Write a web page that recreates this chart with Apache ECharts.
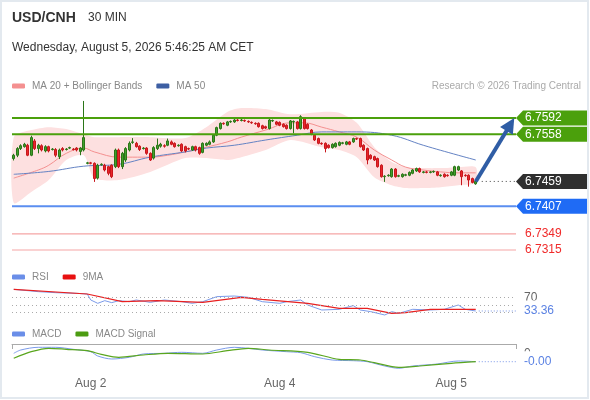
<!DOCTYPE html>
<html>
<head>
<meta charset="utf-8">
<title>USD/CNH 30 MIN</title>
<script src="https://cdn.jsdelivr.net/npm/echarts@6/dist/echarts.min.js"></script>
<style>
  html, body { margin: 0; padding: 0; background: #fff; }
  #chart { width: 590px; height: 400px; }
</style>
</head>
<body>
<div id="chart"></div>
<script>
// ---- data ----
// 30 min candles: [open, close, low, high]
var ohlc = [
  [6.7507,6.7514,6.7503,6.7517],[6.7514,6.7528,6.7510,6.7531],[6.7528,6.7534,6.7525,6.7537],[6.7532,6.7537,6.7530,6.7540],
  [6.7535,6.7514,6.7512,6.7538],[6.7514,6.7551,6.7512,6.7555],[6.7544,6.7528,6.7525,6.7548],[6.7528,6.7535,6.7518,6.7538],
  [6.7534,6.7525,6.7522,6.7537],[6.7523,6.7532,6.7520,6.7535],[6.7532,6.7523,6.7520,6.7534],[6.7526,6.7527,6.7524,6.7529],
  [6.7526,6.7514,6.7510,6.7529],[6.7511,6.7525,6.7506,6.7528],[6.7528,6.7525,6.7522,6.7531],[6.7526,6.7527,6.7524,6.7529],
  [6.7529,6.7530,6.7527,6.7532],[6.7527,6.7526,6.7524,6.7529],[6.7529,6.7525,6.7522,6.7531],[6.7522,6.7529,6.7514,6.7531],
  [6.7525,6.7551,6.7522,6.7628],[6.7497,6.7498,6.7495,6.7500],[6.7498,6.7497,6.7495,6.7500],[6.7497,6.7465,6.7458,6.7499],
  [6.7466,6.7493,6.7463,6.7496],[6.7494,6.7495,6.7492,6.7497],[6.7493,6.7483,6.7480,6.7496],[6.7490,6.7476,6.7472,6.7492],
  [6.7493,6.7469,6.7466,6.7495],[6.7490,6.7525,6.7487,6.7528],[6.7525,6.7490,6.7487,6.7528],[6.7490,6.7518,6.7485,6.7521],
  [6.7504,6.7528,6.7500,6.7531],[6.7525,6.7539,6.7522,6.7543],[6.7541,6.7542,6.7538,6.7550],[6.7539,6.7532,6.7530,6.7542],
  [6.7533,6.7526,6.7523,6.7535],[6.7528,6.7529,6.7526,6.7531],[6.7529,6.7518,6.7515,6.7531],[6.7518,6.7504,6.7502,6.7520],
  [6.7508,6.7530,6.7505,6.7533],[6.7528,6.7535,6.7525,6.7549],[6.7533,6.7537,6.7530,6.7540],[6.7534,6.7533,6.7530,6.7537],
  [6.7535,6.7544,6.7533,6.7549],[6.7542,6.7537,6.7535,6.7545],[6.7539,6.7532,6.7530,6.7541],[6.7534,6.7535,6.7532,6.7537],
  [6.7537,6.7523,6.7521,6.7539],[6.7532,6.7523,6.7520,6.7534],[6.7528,6.7527,6.7525,6.7530],[6.7525,6.7532,6.7523,6.7534],
  [6.7532,6.7525,6.7522,6.7534],[6.7530,6.7518,6.7515,6.7532],[6.7520,6.7539,6.7518,6.7541],[6.7535,6.7539,6.7533,6.7541],
  [6.7537,6.7542,6.7535,6.7545],[6.7542,6.7556,6.7540,6.7558],[6.7556,6.7572,6.7554,6.7574],[6.7570,6.7581,6.7568,6.7583],
  [6.7581,6.7580,6.7578,6.7583],[6.7577,6.7584,6.7575,6.7586],[6.7584,6.7585,6.7582,6.7587],[6.7584,6.7588,6.7582,6.7590],
  [6.7588,6.7587,6.7585,6.7590],[6.7587,6.7588,6.7585,6.7591],[6.7587,6.7586,6.7584,6.7589],[6.7585,6.7584,6.7582,6.7587],
  [6.7583,6.7582,6.7580,6.7585],[6.7581,6.7580,6.7578,6.7583],[6.7581,6.7574,6.7572,6.7583],[6.7576,6.7570,6.7568,6.7578],
  [6.7574,6.7571,6.7569,6.7576],[6.7570,6.7588,6.7568,6.7590],[6.7586,6.7587,6.7584,6.7589],[6.7584,6.7579,6.7577,6.7586],
  [6.7583,6.7577,6.7575,6.7585],[6.7579,6.7574,6.7572,6.7581],[6.7577,6.7570,6.7568,6.7579],[6.7570,6.7586,6.7568,6.7588],
  [6.7584,6.7585,6.7560,6.7587],[6.7584,6.7570,6.7568,6.7586],[6.7570,6.7595,6.7568,6.7598],[6.7591,6.7570,6.7568,6.7594],
  [6.7579,6.7570,6.7568,6.7581],[6.7567,6.7558,6.7556,6.7569],[6.7556,6.7546,6.7544,6.7558],[6.7549,6.7539,6.7537,6.7551],
  [6.7539,6.7538,6.7536,6.7541],[6.7539,6.7528,6.7520,6.7541],[6.7535,6.7530,6.7528,6.7537],[6.7530,6.7537,6.7528,6.7539],
  [6.7532,6.7539,6.7530,6.7541],[6.7535,6.7541,6.7533,6.7543],[6.7539,6.7540,6.7537,6.7542],[6.7537,6.7542,6.7535,6.7544],
  [6.7542,6.7537,6.7535,6.7544],[6.7542,6.7549,6.7540,6.7551],[6.7549,6.7548,6.7546,6.7551],[6.7549,6.7532,6.7530,6.7551],
  [6.7535,6.7525,6.7523,6.7537],[6.7528,6.7504,6.7495,6.7530],[6.7514,6.7507,6.7505,6.7516],[6.7511,6.7504,6.7502,6.7513],
  [6.7507,6.7490,6.7488,6.7509],[6.7493,6.7469,6.7467,6.7495],[6.7469,6.7470,6.7458,6.7472],[6.7471,6.7472,6.7469,6.7474],
  [6.7469,6.7485,6.7467,6.7487],[6.7485,6.7469,6.7467,6.7487],[6.7470,6.7471,6.7468,6.7473],[6.7469,6.7474,6.7467,6.7476],
  [6.7472,6.7473,6.7470,6.7475],[6.7472,6.7478,6.7470,6.7480],[6.7476,6.7483,6.7474,6.7485],[6.7481,6.7486,6.7479,6.7488],
  [6.7486,6.7479,6.7477,6.7488],[6.7478,6.7479,6.7476,6.7481],[6.7479,6.7478,6.7476,6.7481],[6.7478,6.7479,6.7476,6.7481],
  [6.7479,6.7480,6.7477,6.7482],[6.7479,6.7472,6.7470,6.7481],[6.7471,6.7472,6.7469,6.7474],[6.7474,6.7469,6.7467,6.7476],
  [6.7472,6.7471,6.7469,6.7474],[6.7472,6.7479,6.7470,6.7481],[6.7472,6.7490,6.7470,6.7492],[6.7483,6.7490,6.7481,6.7492],
  [6.7481,6.7469,6.7451,6.7483],[6.7472,6.7471,6.7469,6.7474],[6.7472,6.7462,6.7448,6.7474],[6.7465,6.7457,6.7455,6.7467],
  [6.7454,6.7459,6.7452,6.7462]
];
var slots = 144;                       // candle slots on the time axis (empty ones on the right)
var dayIdx = [22, 76, 125];
var dayText = ['Aug 2', 'Aug 4', 'Aug 5'];

// Bollinger bands (20) and moving averages, read at sparse candles
var bandIdx = [0,5,10,15,20,23,30,39,49,55,61,65,72,79,88,93,98,103,108,112,117,122,127,132];
var bandUpper = [6.7552,6.7567,6.7573,6.7569,6.7558,6.7552,6.7552,6.7552,6.7550,6.7573,6.7605,6.7613,
                 6.7611,6.7600,6.7605,6.7603,6.7582,6.7531,6.7500,6.7489,6.7487,6.7487,6.7489,6.7489];
var bandLower = [6.7414,6.7437,6.7462,6.7504,6.7514,6.7466,6.7462,6.7479,6.7508,6.7508,6.7504,6.7510,
                 6.7525,6.7546,6.7531,6.7525,6.7510,6.7468,6.7451,6.7445,6.7445,6.7447,6.7451,6.7456];
var ma20Idx = [0,7,10,15,20,23,30,34,39,44,49,55,61,65,72,79,83,88,93,98,103,108,112,117,122,127,132];
var ma20Val = [6.7466,6.7483,6.7493,6.7518,6.7529,6.7521,6.7510,6.7510,6.7510,6.7514,6.7521,6.7531,6.7542,
               6.7552,6.7567,6.7582,6.7582,6.7573,6.7563,6.7552,6.7525,6.7504,6.7489,6.7483,6.7479,6.7477,6.7477];
var ma50Idx = [0,10,20,30,39,49,55,63,72,81,88,98,108,117,127,132];
var ma50Val = [6.7474,6.7480,6.7491,6.7495,6.7510,6.7521,6.7529,6.7535,6.7546,6.7556,6.7563,6.7563,
               6.7556,6.7535,6.7514,6.7504];

// key levels on the right
var levelValues = [6.7592, 6.7558, 6.7459, 6.7407, 6.7349, 6.7315];
var levelKinds = ['resistance', 'resistance', 'last', 'support', 'minor', 'minor'];
var arrowTarget = 6.7592;

// RSI + 9MA
var rsiIdx = [0,7,12,18,21,22,24,26,28,30,33,35,39,43,48,51,54,58,63,67,71,76,78,82,84,88,93,97,99,102,
              106,108,110,114,119,123,127,129,132];
var rsiVal = [91.1,84.9,82.2,80.4,78.7,62.7,53.8,60.9,55.6,60.9,58.2,62.7,56.4,62.7,58.2,53.8,58.2,71.6,
              73.3,69.8,58.2,53.8,58.2,62.7,49.3,36.0,37.8,47.6,36.0,31.6,22.7,31.6,27.1,37.8,36.0,37.8,
              49.3,37.8,33.36];
var rsiMaIdx = [0,21,31,41,54,65,71,84,93,101,108,112,119,125,132];
var rsiMaVal = [91.1,78.7,58.2,60.9,56.4,69.8,64.4,53.8,40.4,40.4,27.1,28.9,37.8,37.8,37.8];
var rsiLevels = [70, 50, 30];

// MACD + signal
var macdIdx = [0,2,7,12,17,22,24,28,33,37,43,48,54,58,63,67,71,78,82,86,91,97,101,106,110,114,121,127,132];
var macdVal = [0.00007,0.00040,0.00067,0.00067,0.00047,0.00023,-0.00020,-0.00050,-0.00033,0.00000,
               0.00007,0.00017,0.00007,0.00040,0.00067,0.00057,0.00040,0.00023,0.00013,-0.00027,
               -0.00060,-0.00067,-0.00077,-0.00120,-0.00143,-0.00120,-0.00100,-0.00070,-0.00077];
var signalIdx = [0,5,10,15,21,25,30,37,44,54,61,67,73,84,93,99,103,110,116,125,132];
var signalVal = [-0.00043,0.00023,0.00057,0.00047,0.00033,-0.00003,-0.00033,-0.00010,0.00007,0.00000,
                 0.00033,0.00057,0.00040,0.00017,-0.00053,-0.00060,-0.00087,-0.00133,-0.00120,-0.00093,-0.00077];

// ---- chart ----
var FONT = '"Liberation Sans", Arial, sans-serif';
var categories = [];
for (var i = 0; i < slots; i++) categories.push(String(i));
var lastIdx = ohlc.length - 1;

function pairs(idx, vals) {
    return idx.map(function (x, k) { return [x, vals[k]]; });
}

var tagColors = {resistance: '#4ba00c', last: '#2f2f2f', support: '#1f6bf5'};
var lineColors = {resistance: '#4ba00c', support: '#5b8ef0', minor: '#f5a5a5'};

function textStyle(x, y, text, fill) {
    return {x: x, y: y, text: text, fill: fill, font: '12px ' + FONT,
            verticalAlign: 'middle', textVerticalAlign: 'middle'};
}

// horizontal levels + price tags on the right edge
function renderLevel(params, api) {
    var v = api.value(1);
    var kind = levelKinds[params.dataIndex];
    var cs = params.coordSys;
    var y = api.coord([0, v])[1];
    var x0 = cs.x + cs.width;
    var label = v.toFixed(4);
    var children = [];
    if (kind === 'last') {
        var xs = api.coord([lastIdx, v])[0] + 6;
        children.push({type: 'line', shape: {x1: xs, y1: y, x2: x0, y2: y},
                       style: {stroke: '#444', lineWidth: 1, lineDash: [1, 3]}});
    } else {
        children.push({type: 'line', shape: {x1: cs.x, y1: y, x2: x0, y2: y},
                       style: {stroke: lineColors[kind], lineWidth: kind === 'minor' ? 1.2 : 2}});
    }
    if (kind === 'minor') {
        children.push({type: 'text', style: textStyle(x0 + 9, y, label, '#f02a2a')});
    } else {
        children.push({type: 'polygon',
            shape: {points: [[x0, y], [x0 + 7, y - 7.5], [x0 + 71, y - 7.5], [x0 + 71, y + 7.5], [x0 + 7, y + 7.5]]},
            style: {fill: tagColors[kind]}});
        children.push({type: 'text', style: textStyle(x0 + 9, y, label, '#fff')});
    }
    return {type: 'group', children: children};
}

// forecast arrow from the last close to the target level
function renderArrow(params, api) {
    var p1 = api.coord([api.value(0), api.value(1)]);
    var p2 = api.coord([api.value(2), api.value(3)]);
    var dx = p2[0] - p1[0], dy = p2[1] - p1[1];
    var len = Math.sqrt(dx * dx + dy * dy);
    var ux = dx / len, uy = dy / len;
    var head = 15, half = 7.5;
    var bx = p2[0] - ux * head, by = p2[1] - uy * head;
    return {
        type: 'group',
        children: [
            {type: 'line', shape: {x1: p1[0], y1: p1[1], x2: bx + ux * 2, y2: by + uy * 2},
             style: {stroke: '#2f5da5', lineWidth: 4}},
            {type: 'polygon',
             shape: {points: [[p2[0], p2[1]], [bx - uy * half, by + ux * half], [bx + uy * half, by - ux * half]]},
             style: {fill: '#2f5da5'}}
        ]
    };
}

// band between upper and lower Bollinger lines
function renderBand(params, api) {
    if (params.dataIndex !== 0) return null;
    var up = bandIdx.map(function (x, k) { return api.coord([x, bandUpper[k]]); });
    var low = bandIdx.map(function (x, k) { return api.coord([x, bandLower[k]]); });
    return {
        type: 'group',
        children: [
            {type: 'polygon', shape: {points: up.concat(low.slice().reverse()), smooth: 0.25},
             style: {fill: '#fde0e0'}}
        ]
    };
}

function renderValueTag(params, api) {
    var p = api.coord([api.value(0), api.value(1)]);
    var x0 = params.coordSys.x + params.coordSys.width;
    var label = api.value(1).toFixed(2);
    return {
        type: 'group',
        children: [
            {type: 'line', shape: {x1: p[0] + 3, y1: p[1], x2: x0, y2: p[1]},
             style: {stroke: '#7a98e8', lineWidth: 1, lineDash: [1, 2]}},
            {type: 'rect', shape: {x: x0 + 4, y: p[1] - 10.5, width: 40, height: 18}, style: {fill: '#fff'}},
            {type: 'text', style: textStyle(x0 + 8, p[1], label, '#5b82e3')}
        ]
    };
}

var legendBase = {
    left: 12, padding: 0, itemWidth: 13, itemHeight: 5, itemGap: 14, icon: 'roundRect',
    selectedMode: false, textStyle: {fontSize: 10, color: '#888', fontFamily: FONT, padding: [0, 0, 0, 2]}
};

var chart = echarts.init(document.getElementById('chart'), null, {renderer: 'canvas'});
chart.setOption({
    animation: false,
    backgroundColor: '#fff',
    textStyle: {fontFamily: FONT},
    title: [
        {text: 'USD/CNH', left: 12, top: 11, padding: 0,
         textStyle: {fontSize: 14, fontWeight: 'bold', color: '#333', fontFamily: FONT}},
        {text: '30 MIN', left: 88, top: 12, padding: 0,
         textStyle: {fontSize: 12, fontWeight: 'normal', color: '#333', fontFamily: FONT}},
        {text: 'Wednesday, August 5, 2026 5:46:25 AM CET', left: 12, top: 42, padding: 0,
         textStyle: {fontSize: 12, fontWeight: 'normal', color: '#333', fontFamily: FONT}},
        {text: 'Research \u00a9 2026 Trading Central', right: 9, top: 81, padding: 0,
         textStyle: {fontSize: 10, fontWeight: 'normal', color: '#aaa', fontFamily: FONT}}
    ],
    legend: [
        Object.assign({}, legendBase, {top: 81, data: ['MA 20 + Bollinger Bands', 'MA 50']}),
        Object.assign({}, legendBase, {top: 272, data: ['RSI', '9MA']}),
        Object.assign({}, legendBase, {top: 329, data: ['MACD', 'MACD Signal']})
    ],
    graphic: [
        {type: 'rect', shape: {x: 1, y: 1, width: 587, height: 397}, style: {fill: 'none', stroke: '#e3e9ef', lineWidth: 2}, silent: true}
    ],
    grid: [
        {left: 12, right: 74, top: 90, height: 170},
        {left: 12, right: 74, top: 286, height: 33.75},
        {left: 12, right: 74, top: 344, height: 30}
    ],
    xAxis: [
        {type: 'category', gridIndex: 0, data: categories, show: false,
         axisLine: {show: false}, axisTick: {show: false}, axisLabel: {show: false}},
        {type: 'category', gridIndex: 1, data: categories, show: false,
         axisLine: {show: false}, axisTick: {show: false}, axisLabel: {show: false}},
        {type: 'category', gridIndex: 2, data: categories,
         axisLine: {show: false}, axisTick: {show: false}, splitLine: {show: false},
         axisLabel: {
             interval: function (index) { return dayIdx.indexOf(index) >= 0; },
             formatter: function (value, index) { return dayText[dayIdx.indexOf(index)] || ''; },
             color: '#666', fontSize: 12, margin: 4, fontFamily: FONT
         }},
        {type: 'value', gridIndex: 2, min: 0, max: 1, interval: 1,
         axisLine: {show: true, lineStyle: {color: '#aaa'}},
         axisTick: {show: true, inside: true, length: 5, lineStyle: {color: '#aaa'}},
         axisLabel: {show: false}, splitLine: {show: false}}
    ],
    yAxis: [
        {type: 'value', gridIndex: 0, min: 6.7294, max: 6.7651, show: false,
         axisLine: {show: false}, splitLine: {show: false}},
        {type: 'value', gridIndex: 1, min: 10, max: 100, interval: 20, position: 'right',
         axisLine: {show: false}, axisTick: {show: false}, splitLine: {show: false},
         axisLabel: {color: '#666', fontSize: 12, margin: 8, fontFamily: FONT,
                     formatter: function (v) { return v === 70 ? '70' : ''; }}},
        {type: 'value', gridIndex: 2, min: -0.002, max: 0.001, interval: 0.001, position: 'right',
         axisLine: {show: false}, axisTick: {show: false}, splitLine: {show: false},
         axisLabel: {color: '#666', fontSize: 12, margin: 8, fontFamily: FONT,
                     formatter: function (v) { return Math.abs(v) < 1e-9 ? '0' : ''; }}}
    ],
    series: [
        {type: 'custom', name: 'bands', xAxisIndex: 0, yAxisIndex: 0, z: 1, silent: true,
         renderItem: renderBand, encode: {x: 0, y: 1},
         data: pairs(bandIdx, bandUpper)},
        {type: 'line', name: 'MA 20 + Bollinger Bands', xAxisIndex: 0, yAxisIndex: 0, z: 2, smooth: 0.4,
         symbol: 'none', color: '#f49090', itemStyle: {color: '#f49090'},
         lineStyle: {color: '#f49090', width: 1}, data: pairs(ma20Idx, ma20Val)},
        {type: 'line', name: 'MA 50', xAxisIndex: 0, yAxisIndex: 0, z: 2, smooth: 0.4,
         symbol: 'none', color: '#3d5fa3', itemStyle: {color: '#3d5fa3'},
         lineStyle: {color: '#6483c4', width: 1}, data: pairs(ma50Idx, ma50Val)},
        {type: 'candlestick', name: 'USD/CNH', xAxisIndex: 0, yAxisIndex: 0, z: 3,
         barWidth: 2.4,
         itemStyle: {color: '#42a02d', color0: '#e8262b', borderColor: '#2b7618', borderColor0: '#c8171c', borderWidth: 1},
         data: ohlc},
        {type: 'custom', name: 'levels', xAxisIndex: 0, yAxisIndex: 0, z: 4, silent: true,
         renderItem: renderLevel, encode: {x: 0, y: 1},
         data: levelValues.map(function (v) { return [0, v]; })},
        {type: 'custom', name: 'arrow', xAxisIndex: 0, yAxisIndex: 0, z: 5, silent: true,
         renderItem: renderArrow, encode: {x: [0, 2], y: [1, 3]},
         data: [[lastIdx, ohlc[lastIdx][1], slots - 1, arrowTarget]]},

        {type: 'line', name: 'RSI', xAxisIndex: 1, yAxisIndex: 1, symbol: 'none',
         color: '#6a8ee8', itemStyle: {color: '#6a8ee8'}, lineStyle: {color: '#7b9bea', width: 1},
         data: pairs(rsiIdx, rsiVal),
         markLine: {silent: true, symbol: ['none', 'none'], label: {show: false},
                    lineStyle: {color: '#aaa', width: 1, type: [1, 3]},
                    data: rsiLevels.map(function (v) { return {yAxis: v}; })}},
        {type: 'line', name: '9MA', xAxisIndex: 1, yAxisIndex: 1, symbol: 'none',
         color: '#e81010', itemStyle: {color: '#e81010'}, lineStyle: {color: '#e82020', width: 1.2},
         data: pairs(rsiMaIdx, rsiMaVal)},
        {type: 'custom', name: 'rsiTag', xAxisIndex: 1, yAxisIndex: 1, silent: true, z: 5,
         renderItem: renderValueTag, encode: {x: 0, y: 1},
         data: [[rsiIdx[rsiIdx.length - 1], rsiVal[rsiVal.length - 1]]]},

        {type: 'line', name: 'MACD', xAxisIndex: 2, yAxisIndex: 2, smooth: 0.3, symbol: 'none',
         color: '#6a8ee8', itemStyle: {color: '#6a8ee8'}, lineStyle: {color: '#7b9bea', width: 1},
         data: pairs(macdIdx, macdVal)},
        {type: 'line', name: 'MACD Signal', xAxisIndex: 2, yAxisIndex: 2, smooth: 0.3, symbol: 'none',
         color: '#4c9c12', itemStyle: {color: '#4c9c12'}, lineStyle: {color: '#5aa61e', width: 1.2},
         data: pairs(signalIdx, signalVal)},
        {type: 'custom', name: 'macdTag', xAxisIndex: 2, yAxisIndex: 2, silent: true, z: 5,
         renderItem: renderValueTag, encode: {x: 0, y: 1},
         data: [[macdIdx[macdIdx.length - 1], macdVal[macdVal.length - 1]]]}
    ]
});
</script>
</body>
</html>
